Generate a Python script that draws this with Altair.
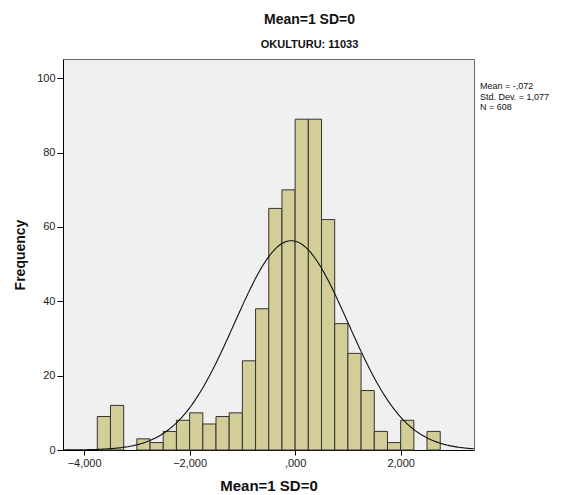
import altair as alt
import numpy as np
import pandas as pd

# Histogram bins (left edges, width 0.25) and counts
bin_left = [-3.75, -3.5, -3.25, -3.0, -2.75, -2.5, -2.25, -2.0, -1.75, -1.5,
            -1.25, -1.0, -0.75, -0.5, -0.25, 0.0, 0.25, 0.5, 0.75, 1.0,
            1.25, 1.5, 1.75, 2.0, 2.25, 2.5]
counts = [9, 12, 0, 3, 2, 5, 8, 10, 7, 9,
          10, 24, 38, 65, 70, 89, 89, 62, 34, 26,
          16, 5, 2, 8, 0, 5]
bin_width = 0.25

# Reported statistics
stat_mean = -0.072
stat_sd = 1.077
stat_n = 608
stat_lines = ["Mean = -,072", "Std. Dev. = 1,077", "N = 608"]

x_ticks = [-4, -2, 0, 2]
y_ticks = [0, 20, 40, 60, 80, 100]
x_domain = [-4.4, 3.39]
y_domain = [0, 105.2]

bars = pd.DataFrame({
    "x0": bin_left,
    "x1": [b + bin_width for b in bin_left],
    "count": counts,
})
bars = bars[bars["count"] > 0]

# Fitted normal curve from the reported mean / SD / N
xs = np.linspace(x_domain[0], x_domain[1], 300)
ys = stat_n * bin_width / (stat_sd * np.sqrt(2 * np.pi)) * np.exp(-0.5 * ((xs - stat_mean) / stat_sd) ** 2)
curve = pd.DataFrame({"x": xs, "y": ys})

W, H = 411, 391
FONT = "Liberation Sans"

xscale = alt.Scale(domain=x_domain, nice=False, zero=False)
yscale = alt.Scale(domain=y_domain, nice=False)

xaxis = alt.Axis(values=x_ticks, grid=False, title="Mean=1 SD=0",
                 labelExpr="datum.value == 0 ? ',000' : replace(format(datum.value, '.3f'), '.', ',')",
                 labelFontSize=11, labelColor="#222", labelFont=FONT,
                 titleFontSize=15, titleFont=FONT, titleFontWeight="bold", titleColor="#111",
                 titlePadding=10, tickSize=5, tickColor="#000", domainColor="#000",
                 labelPadding=2)
yaxis = alt.Axis(values=y_ticks, grid=False, title="Frequency",
                 labelFontSize=11, labelColor="#222", labelFont=FONT,
                 titleFontSize=14, titleFont=FONT, titleFontWeight="bold", titleColor="#111",
                 titlePadding=9, tickSize=6, tickColor="#000", domainColor="#000",
                 labelPadding=2)

rects = alt.Chart(bars).mark_rect(fill="#D3CE97", stroke="#333", strokeWidth=1).encode(
    x=alt.X("x0:Q", scale=xscale, axis=xaxis),
    x2="x1:Q",
    y=alt.Y("count:Q", scale=yscale, axis=yaxis),
    y2=alt.datum(0),
)

line = alt.Chart(curve).mark_line(color="#111", strokeWidth=1.1, clip=True).encode(
    x=alt.X("x:Q", scale=xscale, axis=xaxis),
    y=alt.Y("y:Q", scale=yscale, axis=yaxis),
)

stats = pd.DataFrame({"t": ["\n".join(stat_lines)]})
stat_text = alt.Chart(stats).mark_text(
    align="left", baseline="top", fontSize=9, font=FONT, color="#111",
    lineBreak="\n", lineHeight=10.5
).encode(
    x=alt.value(W + 6),
    y=alt.value(23),
    text="t:N",
)

chart = alt.layer(rects, line, stat_text).properties(
    width=W, height=H,
    autosize=alt.AutoSizeParams(type="none"),
    padding={"left": 55, "top": 51, "right": 75, "bottom": 42},
    background="white",
    title=alt.TitleParams(
        text="Mean=1 SD=0", subtitle="OKULTURU: 11033",
        anchor="middle", dx=41, fontSize=14, fontWeight="bold", font=FONT, color="#111",
        subtitleFont=FONT, subtitleFontSize=11, subtitleFontWeight="bold",
        subtitleColor="#111", subtitlePadding=12, offset=9,
    ),
).configure_view(
    fill="#F0F0F0", stroke="#666", strokeWidth=1
)

chart.save("out.html", embed_options={"renderer": "svg", "actions": False})
